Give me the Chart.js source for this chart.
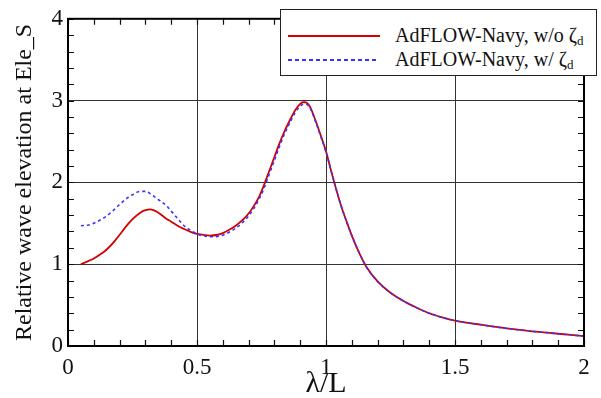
<!DOCTYPE html>
<html>
<head>
<meta charset="utf-8">
<script src="https://cdn.jsdelivr.net/npm/chart.js@4.4.0/dist/chart.umd.min.js"></script>
<style>
html, body { margin: 0; padding: 0; background: #fff; }
#wrap { position: relative; width: 601px; height: 398px; }
#legend { position: absolute; left: 280px; top: 9px; width: 317px; height: 67px; box-sizing: border-box; border: 1.5px solid #222; background: #fff; }
.lg-text { position: absolute; left: 395px; height: 20px; line-height: 20px; font-family: "Liberation Serif", "DejaVu Serif", serif; font-size: 20px; color: #111; white-space: nowrap; }
.lg-text sub { font-size: 13px; vertical-align: -3px; line-height: 0; }
.lg-red { position: absolute; left: 288px; top: 35px; width: 92px; height: 2px; background: #d40000; }
.lg-blue { position: absolute; left: 288px; top: 59px; width: 90px; height: 2px; background: repeating-linear-gradient(90deg, #3535ff 0 4px, transparent 4px 7px); }
</style>
</head>
<body>
<div id="wrap">
  <canvas id="waveChart" width="601" height="398"></canvas>
  <div id="legend"></div>
  <div class="lg-red"></div>
  <div class="lg-text" style="top:25px">AdFLOW-Navy, w/o ζ<sub>d</sub></div>
  <div class="lg-blue"></div>
  <div class="lg-text" style="top:49px">AdFLOW-Navy, w/ ζ<sub>d</sub></div>
</div>
<script>
// wave length ratio lambda/L
const lambdaL = [0.05, 0.08, 0.10, 0.13, 0.15, 0.18, 0.20, 0.23, 0.25, 0.28, 0.30, 0.32, 0.35, 0.38, 0.40, 0.43, 0.45, 0.48, 0.50, 0.53, 0.55, 0.58, 0.60, 0.63, 0.65, 0.68, 0.70, 0.72, 0.74, 0.76, 0.78, 0.80, 0.82, 0.84, 0.86, 0.88, 0.90, 0.91, 0.92, 0.93, 0.94, 0.96, 0.98, 1.00, 1.02, 1.04, 1.06, 1.08, 1.10, 1.13, 1.16, 1.20, 1.25, 1.30, 1.35, 1.40, 1.45, 1.50, 1.60, 1.70, 1.80, 1.90, 2.00];

// AdFLOW-Navy, w/o zeta_d
const woZeta = [1.00, 1.04, 1.07, 1.13, 1.18, 1.28, 1.36, 1.48, 1.55, 1.63, 1.66, 1.67, 1.63, 1.56, 1.52, 1.46, 1.43, 1.39, 1.37, 1.355, 1.35, 1.36, 1.38, 1.43, 1.47, 1.55, 1.62, 1.71, 1.82, 1.97, 2.14, 2.31, 2.48, 2.63, 2.76, 2.88, 2.96, 2.98, 2.98, 2.96, 2.91, 2.75, 2.57, 2.38, 2.14, 1.91, 1.70, 1.52, 1.35, 1.13, 0.95, 0.79, 0.65, 0.55, 0.47, 0.40, 0.35, 0.31, 0.26, 0.215, 0.18, 0.15, 0.12];

// AdFLOW-Navy, w/ zeta_d
const wZeta = [1.47, 1.48, 1.50, 1.55, 1.59, 1.67, 1.73, 1.81, 1.85, 1.89, 1.89, 1.86, 1.79, 1.72, 1.65, 1.54, 1.47, 1.405, 1.37, 1.345, 1.335, 1.34, 1.355, 1.40, 1.44, 1.52, 1.59, 1.68, 1.79, 1.93, 2.10, 2.27, 2.44, 2.60, 2.73, 2.85, 2.93, 2.955, 2.96, 2.945, 2.90, 2.74, 2.56, 2.37, 2.14, 1.91, 1.70, 1.52, 1.35, 1.13, 0.95, 0.79, 0.65, 0.55, 0.47, 0.40, 0.35, 0.31, 0.26, 0.215, 0.18, 0.15, 0.12];

const xTicks = [0, 0.5, 1, 1.5, 2];
const yTicks = [0, 1, 2, 3, 4];
const xMinorStep = 0.1;
const yMinorStep = 0.2;

const serif = 'Liberation Serif, DejaVu Serif, serif';

// frame + small inward ticks on all four sides
const frameTicks = {
  id: 'frameTicks',
  afterDraw(chart) {
    const { ctx, chartArea: a, scales: { x, y } } = chart;
    ctx.save();
    ctx.strokeStyle = '#111';
    ctx.lineWidth = 1.2;
    ctx.beginPath();
    for (let v = 0; v <= 2.0001; v += xMinorStep) {
      const px = Math.round(x.getPixelForValue(v)) + 0.5;
      ctx.moveTo(px, a.bottom); ctx.lineTo(px, a.bottom - 6);
      ctx.moveTo(px, a.top); ctx.lineTo(px, a.top + 6);
    }
    for (let v = 0; v <= 4.0001; v += yMinorStep) {
      const py = Math.round(y.getPixelForValue(v)) + 0.5;
      ctx.moveTo(a.left, py); ctx.lineTo(a.left + 6, py);
      ctx.moveTo(a.right, py); ctx.lineTo(a.right - 6, py);
    }
    ctx.stroke();
    ctx.lineWidth = 2;
    ctx.strokeStyle = '#000';
    ctx.strokeRect(a.left, a.top, a.right - a.left, a.bottom - a.top);
    ctx.restore();
  }
};

new Chart(document.getElementById('waveChart'), {
  type: 'line',
  data: {
    datasets: [{
      label: 'AdFLOW-Navy, w/ ζd',
      data: lambdaL.map((v, i) => ({ x: v, y: wZeta[i] })),
      borderColor: '#3535ff',
      borderWidth: 1.6,
      borderDash: [3, 3],
      pointRadius: 0,
      cubicInterpolationMode: 'monotone',
      fill: false
    }, {
      label: 'AdFLOW-Navy, w/o ζd',
      data: lambdaL.map((v, i) => ({ x: v, y: woZeta[i] })),
      borderColor: '#d40000',
      borderWidth: 1.8,
      pointRadius: 0,
      cubicInterpolationMode: 'monotone',
      fill: false
    }]
  },
  options: {
    responsive: false,
    animation: false,
    layout: { padding: { top: 15, right: 17, left: 0, bottom: 0 } },
    plugins: {
      legend: { display: false },
      tooltip: { enabled: false }
    },
    scales: {
      x: {
        type: 'linear',
        min: 0,
        max: 2,
        afterBuildTicks: s => { s.ticks = xTicks.map(v => ({ value: v })); },
        afterFit: s => { s.height = 52; },
        grid: { color: '#333', lineWidth: 1, drawTicks: false },
        border: { display: false },
        ticks: {
          color: '#111',
          font: { family: serif, size: 23 },
          padding: 8,
          maxRotation: 0,
          callback: v => String(v)
        },
        title: {
          display: true,
          text: 'λ/L',
          color: '#111',
          font: { family: serif, size: 30, lineHeight: 0.9 },
          padding: { top: 0, bottom: 0 }
        }
      },
      y: {
        min: 0,
        max: 4,
        afterBuildTicks: s => { s.ticks = yTicks.map(v => ({ value: v })); },
        afterFit: s => { s.width = 68; },
        grid: { color: '#333', lineWidth: 1, drawTicks: false },
        border: { display: false },
        ticks: {
          color: '#111',
          font: { family: serif, size: 23 },
          padding: 5,
          callback: v => String(v)
        },
        title: {
          display: true,
          text: 'Relative wave elevation at Ele_S',
          color: '#111',
          font: { family: serif, size: 24, lineHeight: 1.2 },
          padding: { top: 10, bottom: 0 }
        }
      }
    }
  },
  plugins: [frameTicks]
});
</script>
</body>
</html>
